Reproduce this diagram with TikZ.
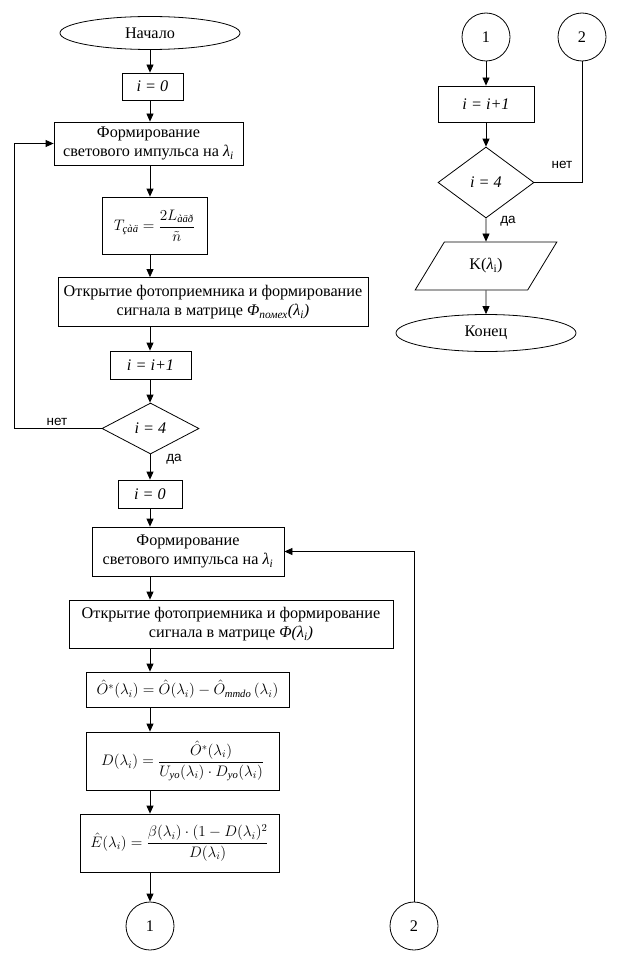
\RequirePackage{fix-cm}
\documentclass[tikz,border=0pt]{standalone}
\usepackage{amsmath}
\usepackage{fontspec}
\setmainfont{Liberation Serif}
\newfontfamily\lblfont{Liberation Sans}
\usetikzlibrary{arrows.meta,shapes.geometric}
\begin{document}
\begin{tikzpicture}[x=1pt,y=-1pt,
  every node/.style={font=\fontsize{16.2}{19.5}\selectfont},
  mathf/.style={font=\fontsize{15.2}{18}\selectfont},
  box/.style={draw,thick,rectangle,inner sep=0pt,align=center},
  term/.style={draw,ellipse,inner sep=0pt},
  cnt/.style={draw,circle,minimum size=48pt,inner sep=0pt},
  dec/.style={draw,diamond,inner sep=0pt,aspect=2},
  lbl/.style={font=\lblfont\fontsize{13.5}{15}\selectfont},
  arr/.style={-{Triangle[length=8pt,width=7pt]}},
  line width=0.8pt]
\useasboundingbox (0,0) rectangle (621,955);
\coordinate (spine) at (150,0);
% left column
\node[term,minimum width=180pt,minimum height=33pt] (start) at (150,33) {Начало};
\node[box,minimum width=61pt,minimum height=27pt] (i0a) at (152.5,86.5) {\textit{i = 0}};
\node[box,minimum width=189pt,minimum height=43pt] (form1) at (148.5,143.5) {Формирование\\светового импульса на \textit{λ\textsubscript{i}}};
\node[box,mathf,minimum width=105pt,minimum height=57pt] (tz) at (154.5,225.5) {$T_{\text{\itshape çàä}}=\dfrac{2L_{\text{\itshape àäð}}}{\tilde{n}}$};
\node[box,minimum width=310pt,minimum height=49pt] (open1) at (213,302) {Открытие фотоприемника и формирование\\сигнала в матрице \textit{Φ\textsubscript{помех}(λ\textsubscript{i})}};
\node[box,minimum width=81pt,minimum height=28pt] (i1) at (150.5,365) {\textit{i = i+1}};
\node[dec,minimum width=97pt,minimum height=51pt] (d1) at (150.5,428.5) {\textit{i = 4}};
\node[box,minimum width=64pt,minimum height=28pt] (i0b) at (150,494) {\textit{i = 0}};
\node[box,minimum width=192pt,minimum height=49pt] (form2) at (188,551.5) {Формирование\\светового импульса на \textit{λ\textsubscript{i}}};
\node[box,minimum width=324pt,minimum height=48pt] (open2) at (231,624) {Открытие фотоприемника и формирование\\сигнала в матрице \textit{Φ(λ\textsubscript{i})}};
\node[box,mathf,minimum width=203pt,minimum height=35pt] (ob) at (187.5,689.5) {$\hat{O}^{*}(\lambda_i)=\hat{O}(\lambda_i)-\hat{O}_{\text{\itshape mmdo}}\,(\lambda_i)$};
\node[box,mathf,minimum width=193pt,minimum height=58pt] (db) at (182.5,761) {$D(\lambda_i)=\dfrac{\hat{O}^{*}(\lambda_i)}{U_{\text{\itshape yo}}(\lambda_i)\cdot D_{\text{\itshape yo}}(\lambda_i)}$};
\node[box,mathf,minimum width=199pt,minimum height=58pt] (eb) at (179.5,843) {$\hat{E}(\lambda_i)=\dfrac{\beta(\lambda_i)\cdot(1-D(\lambda_i)^2}{D(\lambda_i)}$};
\node[cnt] (c1b) at (150,926) {1};
\node[cnt] (c2b) at (414,926) {2};
% right column
\node[cnt] (c1t) at (486,37) {1};
\node[cnt] (c2t) at (582,37) {2};
\node[box,minimum width=96pt,minimum height=36pt] (i1r) at (486,104) {\textit{i = i+1}};
\node[dec,minimum width=96pt,minimum height=71pt] (d2) at (486,182.5) {\textit{i = 4}};
\node[draw,trapezium,trapezium left angle=52,trapezium right angle=128,trapezium stretches=true,minimum width=142pt,minimum height=48pt,inner sep=0pt] (out) at (486,266) {K(\textit{λ}\textsubscript{i})};
\node[term,minimum width=180pt,minimum height=37pt] (stop) at (486,333) {Конец};
% labels
\node[lbl] (n1) at (57,422) {нет};
\node[lbl] (y1) at (174,459) {да};
\node[lbl] (n2) at (562,165) {нет};
\node[lbl] (y2) at (508,221) {да};
% connectors left
\draw[arr] (start.south -| spine) -- (i0a.north -| spine);
\draw[arr] (i0a.south -| spine) -- (form1.north -| spine);
\draw[arr] (form1.south -| spine) -- (tz.north -| spine);
\draw[arr] (tz.south -| spine) -- (open1.north -| spine);
\draw[arr] (open1.south -| spine) -- (i1.north -| spine);
\draw[arr] (i1.south -| spine) -- (d1.north -| spine);
\draw[arr] (d1.west) -- (14,428.5) -- (14,143.5) -- (form1.west);
\draw[arr] (d1.south -| spine) -- (i0b.north -| spine);
\draw[arr] (i0b.south -| spine) -- (form2.north -| spine);
\draw[arr] (form2.south -| spine) -- (open2.north -| spine);
\draw[arr] (open2.south -| spine) -- (ob.north -| spine);
\draw[arr] (ob.south -| spine) -- (db.north -| spine);
\draw[arr] (db.south -| spine) -- (eb.north -| spine);
\draw[arr] (eb.south -| spine) -- (c1b.north);
\draw[arr] (c2b.north) |- (form2.east);
% connectors right
\draw[arr] (c1t.south) -- (i1r.north);
\draw[arr] (i1r.south) -- (d2.north);
\draw (c2t.south) |- (d2.east);
\draw[arr] (d2.south) -- (out.north);
\draw[arr] (out.south) -- (stop.north);
\end{tikzpicture}
\end{document}
